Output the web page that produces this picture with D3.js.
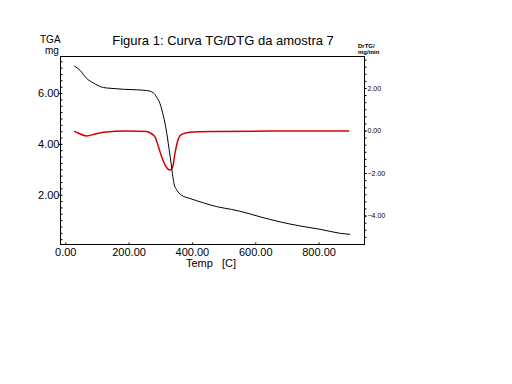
<!DOCTYPE html>
<html>
<head>
<meta charset="utf-8">
<script src="https://cdn.jsdelivr.net/npm/d3@7"></script>
<style>
  html, body { margin: 0; padding: 0; background: #fff; }
  svg text { font-family: "Liberation Sans", Arial, sans-serif; fill: #000; }
</style>
</head>
<body>
<svg id="chart"></svg>
<script>
// curva TG (massa, mg) e DTG (mg/min) da amostra 7
const tgTemp = [30, 48, 69, 90, 106, 122, 143, 185, 227, 259, 280, 290, 301, 311, 317, 324, 330, 336, 340, 345, 354, 369, 396, 438, 480, 527, 553, 617, 680, 743, 806, 870, 901];
const tgMass = [7.05, 6.88, 6.56, 6.38, 6.27, 6.20, 6.17, 6.13, 6.11, 6.08, 5.99, 5.82, 5.56, 5.10, 4.77, 4.25, 3.73, 3.20, 2.81, 2.42, 2.16, 1.96, 1.83, 1.66, 1.51, 1.40, 1.33, 1.11, 0.91, 0.75, 0.62, 0.46, 0.42];

const dtgTemp = [30, 42, 69, 96, 122, 196, 259, 269, 280, 285, 296, 306, 317, 326, 332, 341, 348, 356, 366, 385, 406, 480, 648, 898];
const dtgRate = [-0.05, -0.14, -0.28, -0.19, -0.11, -0.05, -0.07, -0.13, -0.24, -0.32, -0.79, -1.26, -1.65, -1.84, -1.88, -1.73, -1.10, -0.55, -0.24, -0.13, -0.09, -0.07, -0.05, -0.05];

const xTicks = [0, 200, 400, 600, 800];
const yLeftTicks = [2, 4, 6];
const yRightTicks = [-4, -2, 0, 2];

const W = 512, H = 384;
const L = 60, R = 364, T = 56, B = 244;

const svg = d3.select('#chart').attr('width', W).attr('height', H);

const x = d3.scaleLinear().domain([-15, 945]).range([L, R]);
const yL = d3.scaleLinear().domain([0.04, 7.44]).range([B, T]);
const yR = d3.scaleLinear().domain([-5.36, 3.48]).range([B, T]);

// moldura
svg.append('rect')
  .attr('x', L + 0.5).attr('y', T + 0.5)
  .attr('width', R - L).attr('height', B - T)
  .attr('fill', 'none').attr('stroke', '#000').attr('stroke-width', 1);

// eixo esquerdo (TGA)
const leftMinor = d3.range(0.25, 7.4, 0.25);
svg.append('g')
  .attr('transform', `translate(${L + 0.5},0.5)`)
  .call(d3.axisLeft(yL).tickValues(leftMinor).tickSize(-2).tickFormat(''))
  .call(g => g.select('.domain').remove());
svg.append('g')
  .attr('transform', `translate(${L + 0.5},0.5)`)
  .call(d3.axisLeft(yL).tickValues(yLeftTicks).tickSize(2).tickPadding(0).tickFormat(d3.format('.2f')))
  .call(g => g.select('.domain').remove())
  .call(g => g.selectAll('text').attr('font-size', 11).attr('dx', 1));

// eixo direito (DTG)
const rightMinor = d3.range(-5, 3.4, 1 / 3);
svg.append('g')
  .attr('transform', `translate(${R + 0.5},0.5)`)
  .call(d3.axisRight(yR).tickValues(rightMinor).tickSize(2).tickFormat(''))
  .call(g => g.select('.domain').remove());
svg.append('g')
  .attr('transform', `translate(${R + 0.5},0.5)`)
  .call(d3.axisRight(yR).tickValues(yRightTicks).tickSize(2).tickPadding(1).tickFormat(d3.format('.2f')))
  .call(g => g.select('.domain').remove())
  .call(g => g.selectAll('text').attr('font-size', 7));

// eixo inferior (Temp)
svg.append('g')
  .attr('transform', `translate(0.5,${B + 0.5})`)
  .call(d3.axisBottom(x).tickValues(xTicks).tickSize(-2).tickPadding(4).tickFormat(d3.format('.2f')))
  .call(g => g.select('.domain').remove())
  .call(g => g.selectAll('text').attr('font-size', 11));

// curvas
const tgData = tgTemp.map((t, i) => [t, tgMass[i]]);
const dtgData = dtgTemp.map((t, i) => [t, dtgRate[i]]);

svg.append('path')
  .datum(dtgData)
  .attr('fill', 'none').attr('stroke', '#d40000').attr('stroke-width', 1.5)
  .attr('d', d3.line().x(d => x(d[0])).y(d => yR(d[1])).curve(d3.curveMonotoneX));

svg.append('path')
  .datum(tgData)
  .attr('fill', 'none').attr('stroke', '#000').attr('stroke-width', 1)
  .attr('d', d3.line().x(d => x(d[0])).y(d => yL(d[1])).curve(d3.curveMonotoneX));

// textos
svg.append('text').attr('x', 223).attr('y', 45).attr('text-anchor', 'middle')
  .attr('font-size', 13).text('Figura 1: Curva TG/DTG da amostra 7');
svg.append('text').attr('x', 40).attr('y', 43).attr('font-size', 10).text('TGA');
svg.append('text').attr('x', 45).attr('y', 54).attr('font-size', 10).text('mg');
svg.append('text').attr('x', 358).attr('y', 48).attr('font-size', 6).attr('font-weight', 'bold').text('DrTG/');
svg.append('text').attr('x', 358).attr('y', 54).attr('font-size', 6).attr('font-weight', 'bold').text('mg/min');
svg.append('text').attr('x', 211).attr('y', 267).attr('text-anchor', 'middle')
  .attr('font-size', 11).attr('xml:space', 'preserve').text('Temp   [C]');
</script>
</body>
</html>
